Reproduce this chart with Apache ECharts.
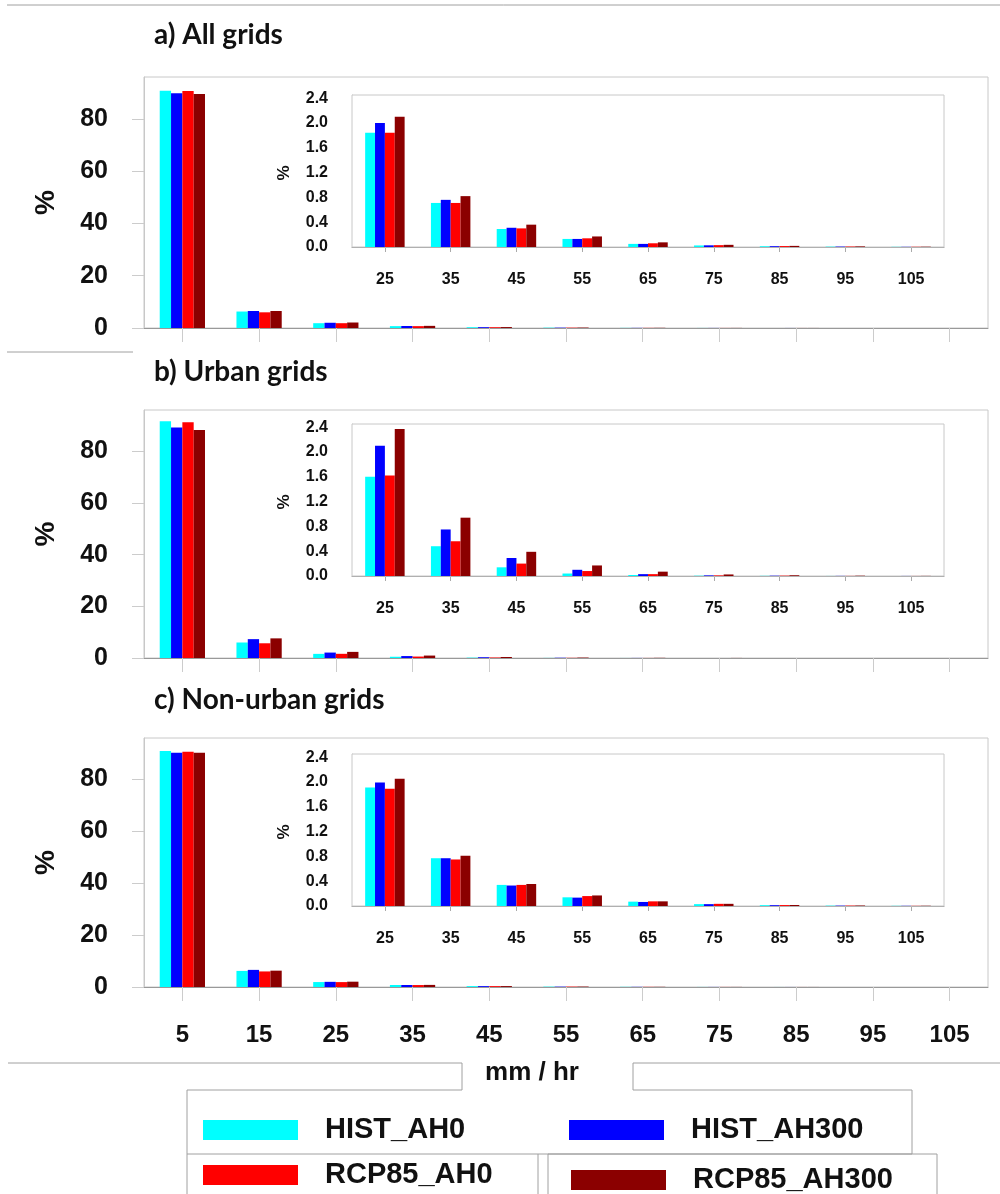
<!DOCTYPE html>
<html>
<head>
<meta charset="utf-8">
<script src="https://cdn.jsdelivr.net/npm/echarts@6/dist/echarts.min.js"></script>
<style>
html,body{margin:0;padding:0;background:#fff;}
#chart{width:1000px;height:1194px;}
</style>
</head>
<body>
<div id="chart"></div>
<script>
// ---- data ----
var mainCategories = ['5','15','25','35','45','55','65','75','85','95','105'];
var insetStart = 2; // inset shows 25..105
var seriesNames = ['HIST_AH0','HIST_AH300','RCP85_AH0','RCP85_AH300'];
var seriesColors = ['#00ffff','#0000ff','#ff0000','#8b0000'];
var panelTitles = ['a) All grids','b) Urban grids','c) Non-urban grids'];
var mainTicks = [0,20,40,60,80];
var insetTicks = [0.0,0.4,0.8,1.2,1.6,2.0,2.4];

// a) All grids
var allHIST_AH0     = [90.7, 6.3, 1.84, 0.71, 0.29, 0.13, 0.05, 0.025, 0.012, 0.006, 0.003];
var allHIST_AH300   = [89.8, 6.5, 2.00, 0.76, 0.31, 0.13, 0.05, 0.027, 0.013, 0.007, 0.003];
var allRCP85_AH0    = [90.6, 6.0, 1.84, 0.71, 0.30, 0.14, 0.06, 0.030, 0.015, 0.008, 0.004];
var allRCP85_AH300  = [89.5, 6.5, 2.10, 0.82, 0.36, 0.17, 0.075, 0.035, 0.018, 0.010, 0.005];
// b) Urban grids
var urbHIST_AH0     = [91.6, 6.0, 1.60, 0.48, 0.14, 0.04, 0.016, 0.005, 0.003, 0.001, 0.0005];
var urbHIST_AH300   = [89.2, 7.3, 2.10, 0.75, 0.29, 0.10, 0.03, 0.010, 0.005, 0.002, 0.001];
var urbRCP85_AH0    = [91.3, 5.7, 1.62, 0.56, 0.20, 0.08, 0.03, 0.010, 0.006, 0.002, 0.001];
var urbRCP85_AH300  = [88.3, 7.6, 2.37, 0.94, 0.39, 0.17, 0.07, 0.025, 0.012, 0.005, 0.002];
// c) Non-urban grids
var nonHIST_AH0     = [91.0, 6.2, 1.91, 0.77, 0.34, 0.14, 0.07, 0.030, 0.013, 0.006, 0.003];
var nonHIST_AH300   = [90.3, 6.6, 1.99, 0.77, 0.33, 0.135, 0.065, 0.030, 0.013, 0.006, 0.003];
var nonRCP85_AH0    = [90.7, 6.0, 1.89, 0.75, 0.34, 0.16, 0.075, 0.035, 0.015, 0.007, 0.003];
var nonRCP85_AH300  = [90.3, 6.3, 2.05, 0.81, 0.355, 0.17, 0.075, 0.035, 0.016, 0.008, 0.004];

var panels = [
  [allHIST_AH0, allHIST_AH300, allRCP85_AH0, allRCP85_AH300],
  [urbHIST_AH0, urbHIST_AH300, urbRCP85_AH0, urbRCP85_AH300],
  [nonHIST_AH0, nonHIST_AH300, nonRCP85_AH0, nonRCP85_AH300]
];

// ---- layout ----
var mainTops = [77, 410, 738];
var mainHeights = [251, 248, 249];
var insetTops = [95, 424, 754];
var titleY = [35, 372, 700];
var FONT = "'Liberation Sans', Arial, sans-serif";
var GRID_LINE = '#c8c8c8';

var chart = echarts.init(document.getElementById('chart'), null, {renderer:'canvas'});

var grids = [], xAxes = [], yAxes = [], series = [], graphics = [];

for (var p = 0; p < 3; p++) {
  grids.push({left:144, width:844, top:mainTops[p], height:mainHeights[p], show:true,
    borderColor:GRID_LINE, borderWidth:1, backgroundColor:'transparent', containLabel:false});
  grids.push({left:352, width:592, top:insetTops[p], height:152, show:true,
    borderColor:GRID_LINE, borderWidth:1, backgroundColor:'#ffffff', containLabel:false, z:3});

  var gi = p*2;
  xAxes.push({type:'category', gridIndex:gi, data:mainCategories,
    axisLine:{lineStyle:{color:'#999', width:1}},
    axisTick:{show:true, alignWithLabel:true, length:14, lineStyle:{color:'#ccc'}},
    axisLabel:{show:(p===2), margin:36, fontSize:24, fontWeight:'bold', fontFamily:FONT, color:'#111'}
  });
  yAxes.push({type:'value', gridIndex:gi, min:0, max:96, interval:20,
    axisLine:{show:true, lineStyle:{color:GRID_LINE}},
    axisTick:{show:true, length:12, lineStyle:{color:'#ccc'}},
    splitLine:{show:false},
    axisLabel:{showMaxLabel:false, margin:36, fontSize:25, fontWeight:'bold', fontFamily:FONT, color:'#111',
      formatter:function(v){ return mainTicks.indexOf(v) >= 0 ? String(v) : ''; }}
  });
  xAxes.push({type:'category', gridIndex:gi+1, data:mainCategories.slice(insetStart),
    axisLine:{lineStyle:{color:'#999', width:1}},
    axisTick:{show:true, alignWithLabel:true, length:5, lineStyle:{color:'#aaa'}},
    axisLabel:{margin:25, fontSize:16, fontWeight:'bold', fontFamily:FONT, color:'#111'}
  });
  yAxes.push({type:'value', gridIndex:gi+1, min:0, max:2.45, interval:0.4,
    axisLine:{show:true, lineStyle:{color:GRID_LINE}},
    axisTick:{show:false},
    splitLine:{show:false},
    axisLabel:{showMaxLabel:false, margin:24, fontSize:16, fontWeight:'bold', fontFamily:FONT, color:'#111',
      formatter:function(v){ return v.toFixed(1); }}
  });

  for (var s = 0; s < 4; s++) {
    series.push({type:'bar', name:seriesNames[s], xAxisIndex:gi, yAxisIndex:gi,
      data:panels[p][s], barGap:'0%', barCategoryGap:'41%',
      itemStyle:{color:seriesColors[s]}, z:2});
    series.push({type:'bar', name:seriesNames[s], xAxisIndex:gi+1, yAxisIndex:gi+1,
      data:panels[p][s].slice(insetStart), barGap:'0%', barCategoryGap:'40%',
      itemStyle:{color:seriesColors[s]}, z:4});
  }

  graphics.push({type:'text', x:154, y:titleY[p], z:10,
    style:{text:panelTitles[p], font:"bold 28px 'Lato', 'Open Sans', sans-serif", fill:'#111',
      textAlign:'left', textVerticalAlign:'middle'}});
  graphics.push({type:'text', x:46, y:mainTops[p] + mainHeights[p]/2, rotation:Math.PI/2, z:10,
    style:{text:'%', font:'bold 28px ' + FONT, fill:'#111', textAlign:'center', textVerticalAlign:'middle'}});
  graphics.push({type:'text', x:284, y:insetTops[p] + 78, rotation:Math.PI/2, z:10,
    style:{text:'%', font:'bold 17px ' + FONT, fill:'#111', textAlign:'center', textVerticalAlign:'middle'}});
}

graphics.push({type:'text', x:532, y:1073, z:10,
  style:{text:'mm / hr', font:'bold 26px ' + FONT, fill:'#111', textAlign:'center', textVerticalAlign:'middle'}});

var LC = '#a0a0a0';
function line(x1,y1,x2,y2){ graphics.push({type:'line', z:1, shape:{x1:x1,y1:y1,x2:x2,y2:y2}, style:{stroke:LC, lineWidth:1}}); }
line(7,5,1000,5);
line(7,352,133,352);
line(8,1063,462,1063); line(462,1063,462,1090); line(187,1090,462,1090);
line(633,1063,1000,1063); line(633,1063,633,1090); line(633,1090,912,1090);
line(187,1090,187,1154); line(912,1090,912,1154); line(187,1154,912,1154);
line(187,1154,187,1194); line(538,1154,538,1194);
line(548,1154,548,1194); line(548,1154,937,1154); line(937,1154,937,1194);

function legend(name, left, centerY){
  return {data:[name], left:left, top:centerY-15, orient:'horizontal', padding:0, itemGap:0,
    itemWidth:95, itemHeight:20, icon:'rect', selectedMode:false,
    textStyle:{fontSize:29, fontWeight:'bold', fontFamily:FONT, color:'#111', lineHeight:30, padding:[0,0,0,22]}};
}
var legends = [
  legend(seriesNames[0], 203, 1130),
  legend(seriesNames[1], 569, 1130),
  legend(seriesNames[2], 203, 1175),
  legend(seriesNames[3], 571, 1180)
];

chart.setOption({
  animation:false,
  backgroundColor:'#ffffff',
  grid:grids, xAxis:xAxes, yAxis:yAxes, series:series,
  legend:legends,
  graphic:{elements:graphics}
});
</script>
</body>
</html>
